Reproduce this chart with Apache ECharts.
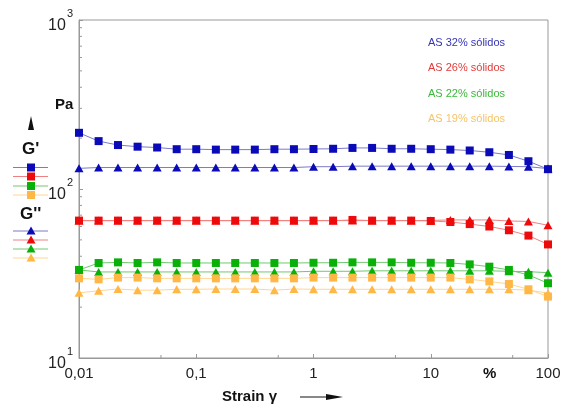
<!DOCTYPE html>
<html>
<head>
<meta charset="utf-8">
<script src="https://cdn.jsdelivr.net/npm/echarts@6/dist/echarts.min.js"></script>
<style>html,body{margin:0;padding:0;background:#fff}#c{width:565px;height:409px}</style>
</head>
<body>
<div id="c"></div>
<script>
// Strain values (%)
var strain = [0.01, 0.0147, 0.0215, 0.0316, 0.0464, 0.0681, 0.1, 0.147, 0.215, 0.316, 0.464, 0.681,
  1, 1.47, 2.15, 3.16, 4.64, 6.81, 10, 14.7, 21.5, 31.6, 46.4, 68.1, 100];

// G' (storage modulus, Pa)
var gp32 = [215, 192, 182, 178, 176, 172, 172, 171, 171, 171, 172, 172, 172.5, 173, 175, 175, 173, 173, 172, 171, 169, 165, 159, 146, 131];
var gp26 = [65, 65, 65, 65, 65, 65, 65, 65, 65, 65, 65, 65, 65, 65, 65.6, 65, 65, 65, 64.7, 63.8, 62, 60, 57, 53, 47];
var gp22 = [33.2, 36.5, 36.8, 36.5, 36.8, 36.5, 36.5, 36.5, 36.5, 36.5, 36.5, 36.5, 36.6, 36.6, 36.8, 36.8, 36.8, 36.6, 36.6, 36.5, 35.8, 34.7, 33.2, 31, 27.7];
var gp19 = [29.6, 29.2, 29.9, 29.9, 29.6, 29.6, 29.6, 29.6, 29.6, 29.6, 29.6, 29.6, 29.9, 29.9, 29.9, 29.9, 29.9, 29.9, 29.9, 29.9, 29.2, 28.4, 27.4, 25.5, 23.1];

// G'' (loss modulus, Pa)
var gpp32 = [132.5, 134, 134, 134, 134, 134, 134, 134, 134, 134, 134, 134, 135.5, 135.5, 136.5, 136.5, 136.5, 136.5, 136.5, 136.5, 136.5, 136.5, 136, 135.5, 132];
var gpp26 = [65, 65, 65, 65, 65, 65, 65, 65, 65, 65, 65, 65, 65, 65, 65, 65, 65, 65, 65.2, 65.6, 65.6, 65.6, 64.7, 64.3, 61];
var gpp22 = [33.2, 32.3, 32.3, 32.3, 32.3, 32.3, 32.3, 32.3, 32.3, 32.3, 32.3, 32.3, 32.6, 32.6, 32.6, 32.8, 32.8, 32.8, 32.8, 32.8, 32.8, 32.8, 32.6, 32.4, 32];
var gpp19 = [24.3, 25.0, 25.6, 25.2, 25.2, 25.5, 25.5, 25.6, 25.6, 25.6, 25.2, 25.6, 25.5, 25.5, 25.5, 25.5, 25.5, 25.5, 25.5, 25.5, 25.5, 25.5, 25.5, 25.2, 24.2];

var names = ['AS 32% sólidos', 'AS 26% sólidos', 'AS 22% sólidos', 'AS 19% sólidos'];
var xTickLabels = {'0.01': '0,01', '0.1': '0,1', '1': '1', '10': '10', '100': '100'};
var xMinorTicks = [0.05, 0.5, 5, 50];
var yMinorTicks = [20, 30, 40, 50, 60, 70, 80, 90, 200, 300, 400, 500, 600, 700, 800, 900];

var markerColors = ['#0a0ab8', '#ee0a0a', '#08b008', '#ffb845'];
var lineColors = ['#7a7ac8', '#f08080', '#70c870', '#ffd690'];
var textColors = ['#3535b5', '#e23b3b', '#3cb83c', '#f5c46a'];

function pairs(ys) { return strain.map(function (x, i) { return [x, ys[i]]; }); }

var gpSets = [gp32, gp26, gp22, gp19];
var gppSets = [gpp32, gpp26, gpp22, gpp19];

var series = [];
for (var i = 0; i < 4; i++) {
  series.push({
    type: 'line', name: names[i] + " G''", data: pairs(gppSets[i]),
    symbol: 'triangle', symbolSize: [9, 8], itemStyle: {color: markerColors[i]},
    lineStyle: {color: lineColors[i], width: 1}, z: 3, animation: false
  });
}
for (var j = 0; j < 4; j++) {
  series.push({
    type: 'line', name: names[j] + " G'", data: pairs(gpSets[j]),
    symbol: 'rect', symbolSize: 8, itemStyle: {color: markerColors[j]},
    lineStyle: {color: lineColors[j], width: 1}, z: 4, animation: false
  });
}
// minor ticks on log axes (at 2..9 / 5 positions)
series.push({
  type: 'custom', data: xMinorTicks.map(function (v) { return [v, 10]; }), silent: true, animation: false,
  renderItem: function (params, api) {
    var p = api.coord([api.value(0), api.value(1)]);
    return {type: 'line', shape: {x1: p[0], y1: p[1], x2: p[0], y2: p[1] - 3}, style: {stroke: '#999', lineWidth: 1}};
  }
});
series.push({
  type: 'custom', data: yMinorTicks.map(function (v) { return [0.01, v]; }), silent: true, animation: false,
  renderItem: function (params, api) {
    var p = api.coord([api.value(0), api.value(1)]);
    return {type: 'line', shape: {x1: p[0], y1: p[1], x2: p[0] + 3, y2: p[1]}, style: {stroke: '#999', lineWidth: 1}};
  }
});

var graphics = [];
// right legend text
for (var k = 0; k < 4; k++) {
  graphics.push({type: 'text', left: 428, top: 37 + k * 25.5,
    style: {text: names[k], fill: textColors[k], font: '11px "Liberation Sans", Arial, sans-serif'}});
}
// left legend
graphics.push({type: 'text', left: 22, top: 141, style: {text: "G'", fill: '#111', font: 'bold 17px "Liberation Sans", Arial, sans-serif'}});
graphics.push({type: 'text', left: 20, top: 206, style: {text: "G''", fill: '#111', font: 'bold 17px "Liberation Sans", Arial, sans-serif'}});
var sqY = [167.5, 176.5, 186, 195];
var trY = [231, 240, 249, 258];
for (var m = 0; m < 4; m++) {
  graphics.push({type: 'line', shape: {x1: 13, y1: sqY[m], x2: 48, y2: sqY[m]}, style: {stroke: lineColors[m], lineWidth: 1}});
  graphics.push({type: 'rect', shape: {x: 27, y: sqY[m] - 4, width: 8, height: 8}, style: {fill: markerColors[m]}});
  graphics.push({type: 'line', shape: {x1: 13, y1: trY[m], x2: 48, y2: trY[m]}, style: {stroke: lineColors[m], lineWidth: 1}});
  graphics.push({type: 'polygon', shape: {points: [[31, trY[m] - 4.5], [35.5, trY[m] + 3.5], [26.5, trY[m] + 3.5]]}, style: {fill: markerColors[m]}});
}
// up arrow
graphics.push({type: 'polygon', shape: {points: [[31, 116], [34, 130], [28, 130]]}, style: {fill: '#111'}});
// Pa
graphics.push({type: 'text', left: 55, top: 97, style: {text: 'Pa', fill: '#111', font: 'bold 15px "Liberation Sans", Arial, sans-serif'}});
// % on x axis
graphics.push({type: 'text', left: 483, top: 366, style: {text: '%', fill: '#111', font: 'bold 15px "Liberation Sans", Arial, sans-serif'}});
// Strain gamma
graphics.push({type: 'text', left: 222, top: 389, style: {text: 'Strain γ', fill: '#111', font: 'bold 15px "Liberation Sans", Arial, sans-serif'}});
graphics.push({type: 'line', shape: {x1: 300, y1: 397, x2: 328, y2: 397}, style: {stroke: '#111', lineWidth: 1}});
graphics.push({type: 'polygon', shape: {points: [[326, 394], [343, 397], [326, 400]]}, style: {fill: '#111'}});

var chart = echarts.init(document.getElementById('c'), null, {renderer: 'canvas'});
chart.setOption({
  animation: false,
  backgroundColor: '#fff',
  grid: {left: 79, right: 17, top: 20, bottom: 51, show: true, borderColor: '#999', borderWidth: 1, backgroundColor: 'transparent'},
  xAxis: {
    type: 'log', logBase: 10, min: 0.01, max: 100,
    axisLine: {lineStyle: {color: '#999'}},
    axisTick: {inside: true, length: 4, lineStyle: {color: '#999'}},
    splitLine: {show: false},
    axisLabel: {margin: 8, color: '#222', fontSize: 15, fontFamily: '"Liberation Sans", Arial, sans-serif',
      formatter: function (v) { var key = String(+v.toPrecision(3)); return xTickLabels[key] !== undefined ? xTickLabels[key] : ''; }}
  },
  yAxis: {
    type: 'log', logBase: 10, min: 10, max: 1000,
    axisLine: {lineStyle: {color: '#999'}},
    axisTick: {inside: true, length: 4, lineStyle: {color: '#999'}},
    splitLine: {show: false},
    axisLabel: {margin: 6, color: '#222', fontFamily: '"Liberation Sans", Arial, sans-serif',
      formatter: function (v) { var e = Math.round(Math.log10(v)); return '{b|10}{s|' + e + '}'; },
      rich: {
        b: {fontSize: 16, color: '#222', padding: [12, 0, 0, 0], fontFamily: '"Liberation Sans", Arial, sans-serif'},
        s: {fontSize: 11, color: '#222', padding: [0, 0, 12, 1], fontFamily: '"Liberation Sans", Arial, sans-serif'}
      }}
  },
  series: series,
  graphic: graphics
});
</script>
</body>
</html>
